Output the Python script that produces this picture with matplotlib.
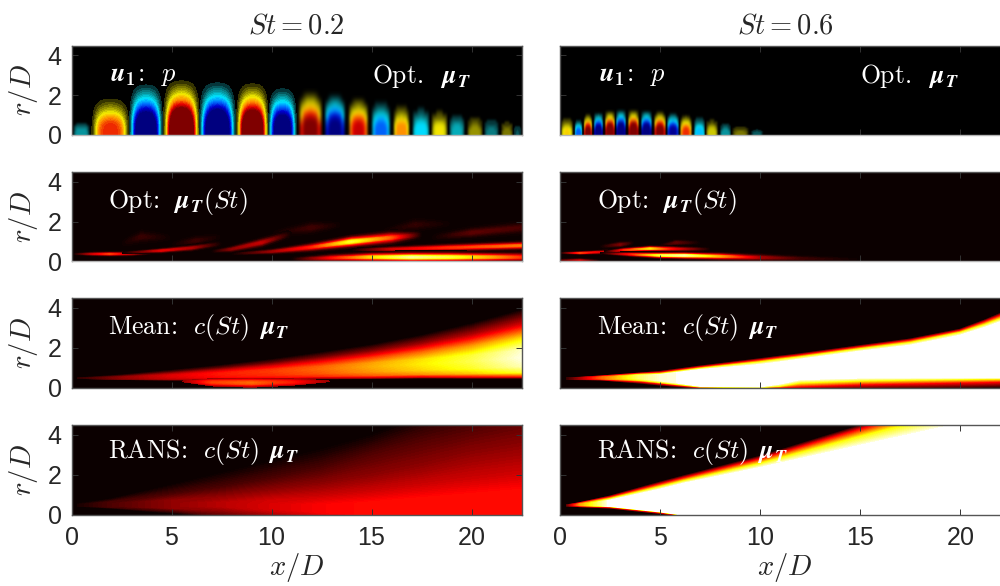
import numpy as np
import matplotlib
matplotlib.use("Agg")
import matplotlib.pyplot as plt
from matplotlib.colors import LinearSegmentedColormap

plt.rcParams['font.family'] = ['Liberation Sans', 'DejaVu Sans']
plt.rcParams['mathtext.fontset'] = 'custom'
plt.rcParams['mathtext.rm'] = 'cmr10'
plt.rcParams['mathtext.it'] = 'cmmi10:italic'
plt.rcParams['mathtext.bf'] = 'cmb10'
plt.rcParams['mathtext.bfit'] = 'STIXGeneral:italic:bold'
plt.rcParams['axes.formatter.use_mathtext'] = True

# ---- top row: pressure lobes, edges along x/D, peak (signed) and top in r/D
lobe_edges_02 = [0, 0.95, 2.87, 4.55, 6.38, 8.22, 9.83, 11.25, 12.58, 13.78, 14.92,
                 16.0, 16.95, 17.92, 18.83, 19.72, 20.58, 21.42, 22.08, 22.5]
lobe_peak_02 = [-0.2, 0.72, -1.3, 1.5, -1.4, 1.4, -1.2, 1.08, -1.05, 0.85, -0.6,
                0.55, -0.36, 0.34, -0.22, 0.17, -0.13, 0.12, -0.07]
lobe_top_02 = [0.8, 2.0, 2.67, 2.9, 2.8, 2.75, 2.5, 2.35, 2.2, 2.0, 1.85,
               1.65, 1.55, 1.4, 1.3, 1.15, 1.0, 0.9, 0.7]

lobe_edges_06 = [0, 0.68, 1.13, 1.63, 2.18, 2.77, 3.35, 4.0, 4.63, 5.3, 5.97,
                 6.65, 7.27, 7.93, 8.57, 9.5, 10.2]
lobe_peak_06 = [0.38, -0.6, 1.05, -1.15, 1.3, -1.3, 1.3, -1.25, 1.1, -0.95, 0.7,
                -0.42, 0.28, -0.17, 0.13, -0.09]
lobe_top_06 = [0.92, 0.83, 1.13, 1.2, 1.3, 1.33, 1.33, 1.3, 1.27, 1.2, 1.1,
               0.97, 0.88, 0.73, 0.55, 0.38]

# normalised look of one lobe, top row is the dome tip, last row is the axis
lobe_shape = np.array([
    [0, 0.00, 0.00, 0.00, 0.00, 0.00, 0.00, 0.00, 0],
    [0, 0.02, 0.06, 0.09, 0.10, 0.09, 0.06, 0.02, 0],
    [0, 0.08, 0.18, 0.23, 0.25, 0.23, 0.18, 0.08, 0],
    [0, 0.20, 0.37, 0.43, 0.45, 0.43, 0.37, 0.20, 0],
    [0, 0.34, 0.62, 0.72, 0.75, 0.72, 0.62, 0.34, 0],
    [0, 0.55, 0.85, 0.95, 1.00, 0.95, 0.85, 0.55, 0],
    [0, 0.68, 0.95, 1.00, 1.00, 1.00, 0.95, 0.68, 0],
    [0, 0.70, 0.95, 1.00, 1.00, 1.00, 0.95, 0.70, 0],
])

# ---- second row: streaks (x stations, centre r, half width, peak)
streaks_02 = [
    ([2.5, 3.5, 5.0], [0.9, 1.25, 1.2], [0.3, 0.4, 0.3], [0.0, 0.07, 0.0]),
    ([5.0, 6.2, 7.5], [0.85, 1.05, 1.25], [0.25, 0.3, 0.25], [0.0, 0.07, 0.0]),
    ([10.0, 12.0, 13.5], [1.4, 1.7, 1.85], [0.25, 0.4, 0.25], [0.0, 0.08, 0.0]),
    ([15.5, 17.2, 19.0], [1.5, 1.85, 1.9], [0.25, 0.4, 0.25], [0.0, 0.06, 0.0]),
    ([18.0, 20.0, 22.5], [1.2, 1.45, 1.7], [0.3, 0.35, 0.4], [0.0, 0.12, 0.09]),
    ([0.1, 1.0, 1.9, 3.0, 4.0], [0.38, 0.38, 0.38, 0.39, 0.42], [0.07, 0.11, 0.13, 0.13, 0.1], [0.0, 0.28, 0.46, 0.25, 0.0]),
    ([2.5, 4.5, 6.0, 7.5], [0.43, 0.55, 0.68, 0.9], [0.08, 0.14, 0.18, 0.2], [0.0, 0.33, 0.25, 0.0]),
    ([7.0, 8.0, 9.5, 11.0], [0.5, 0.62, 0.95, 1.4], [0.1, 0.18, 0.28, 0.3], [0.0, 0.2, 0.28, 0.0]),
    ([8.0, 10.0, 12.0, 14.0, 16.0, 17.5], [0.38, 0.5, 0.72, 1.0, 1.2, 1.35], [0.09, 0.16, 0.27, 0.36, 0.4, 0.3], [0.0, 0.22, 0.42, 0.8, 0.5, 0.0]),
    ([14.0, 16.0, 19.0, 22.5], [0.58, 0.62, 0.7, 0.8], [0.12, 0.18, 0.24, 0.26], [0.0, 0.3, 0.44, 0.55]),
    ([11.0, 13.0, 15.0, 17.0, 19.0, 21.0, 22.5], [0.12, 0.18, 0.22, 0.22, 0.22, 0.22, 0.22], [0.14, 0.24, 0.3, 0.32, 0.32, 0.3, 0.3], [0.0, 0.38, 0.7, 0.9, 0.8, 0.62, 0.44]),
]
streaks_06 = [
    ([0.0, 1.0, 2.0], [0.05, 0.05, 0.03], [0.1, 0.13, 0.1], [0.12, 0.3, 0.0]),
    ([2.0, 3.0, 3.7], [0.75, 0.85, 0.95], [0.12, 0.18, 0.14], [0.0, 0.17, 0.0]),
    ([5.0, 5.8, 7.0], [0.8, 0.95, 0.95], [0.12, 0.18, 0.14], [0.0, 0.13, 0.0]),
    ([0.0, 1.0, 2.2, 3.0], [0.43, 0.43, 0.48, 0.58], [0.06, 0.09, 0.12, 0.12], [0.0, 0.46, 0.3, 0.0]),
    ([2.2, 3.2, 4.5, 5.5, 7.5], [0.48, 0.58, 0.65, 0.64, 0.62], [0.09, 0.13, 0.16, 0.16, 0.12], [0.0, 0.42, 0.72, 0.4, 0.0]),
    ([2.0, 3.5, 5.0, 6.2, 8.0, 10.0, 12.0, 15.0], [0.42, 0.36, 0.31, 0.3, 0.26, 0.2, 0.15, 0.1], [0.06, 0.13, 0.18, 0.2, 0.22, 0.22, 0.18, 0.12], [0.0, 0.4, 0.82, 0.92, 0.62, 0.24, 0.08, 0.0]),
]

# ---- third row, St = 0.2
mean_x_02 = [0.3, 2.5, 5.0, 7.5, 10.0, 12.5, 15.0, 17.5, 20.0, 22.5]
mean_r_02 = [0.47, 0.50, 0.58, 0.68, 0.80, 0.92, 1.05, 1.18, 1.32, 1.50]
mean_low_02 = [0.03, 0.12, 0.22, 0.32, 0.42, 0.50, 0.62, 0.72, 0.87, 1.05]
mean_up_02 = [0.03, 0.15, 0.30, 0.45, 0.62, 0.85, 1.10, 1.45, 1.90, 2.40]
mean_peak_02 = [0.05, 0.20, 0.32, 0.40, 0.45, 0.52, 0.62, 0.72, 0.82, 0.97]
blob_x_02 = [5.5, 7.0, 9.0, 11.0, 13.0]
blob_r_02 = [0.32, 0.26, 0.24, 0.27, 0.32]
blob_w_02 = [0.25, 0.42, 0.48, 0.42, 0.25]
blob_peak_02 = [0.2, 0.46, 0.52, 0.4, 0.2]

# ---- third row, St = 0.6: r/D where the field reaches each level
mean_x_06 = [0.3, 2.0, 4.0, 5.0, 7.0, 10.0, 11.0, 12.0, 15.0, 17.5, 20.0, 21.25, 22.5]
mean_cap_06 = [0.05, 0.5, 0.85, 0.95, 1.0, 1.0, 1.0, 1.0, 1.0, 1.0, 1.0, 1.0, 1.0]
mean_levels_06 = [0.0, 0.36, 0.75, 1.0, 1.0, 0.75, 0.36, 0.0]
mean_rows_06 = [
    [0.38, 0.36, 0.20, 0.10, -0.05, -0.1, -0.1, -0.10, -0.10, -0.08, -0.05, -0.02, 0.0],
    [0.40, 0.41, 0.30, 0.20, 0.00, -0.02, 0.0, 0.05, 0.15, 0.20, 0.25, 0.27, 0.30],
    [0.42, 0.44, 0.38, 0.27, 0.04, 0.0, 0.08, 0.25, 0.35, 0.39, 0.42, 0.44, 0.45],
    [0.44, 0.47, 0.45, 0.35, 0.08, 0.05, 0.20, 0.42, 0.50, 0.50, 0.50, 0.50, 0.50],
    [0.44, 0.47, 0.60, 0.64, 0.88, 1.13, 1.26, 1.40, 1.80, 2.10, 2.60, 3.00, 3.45],
    [0.46, 0.52, 0.64, 0.68, 0.95, 1.27, 1.40, 1.52, 1.93, 2.24, 2.75, 3.15, 3.62],
    [0.48, 0.56, 0.70, 0.75, 1.02, 1.37, 1.50, 1.62, 2.03, 2.36, 2.85, 3.30, 3.80],
    [0.50, 0.60, 0.75, 0.83, 1.10, 1.47, 1.60, 1.72, 2.13, 2.46, 2.95, 3.42, 3.95],
]

# ---- bottom row, St = 0.2
rans_x_02 = [0.3, 2.0, 5.0, 7.5, 10.0, 12.5, 15.0, 17.5, 20.0, 22.5]
rans_cap_02 = [0.02, 0.10, 0.20, 0.26, 0.31, 0.36, 0.38, 0.38, 0.38, 0.38]
rans_levels_02 = [0.0, 0.1, 0.2, 0.3, 0.38, 0.38, 0.3, 0.2, 0.1, 0.0]
rans_rows_02 = [
    [0.40, 0.30, 0.05, -0.15, -0.30, -0.4, -0.4, -0.4, -0.4, -0.4],
    [0.42, 0.38, 0.20, -0.10, -0.25, -0.3, -0.3, -0.3, -0.3, -0.3],
    [0.43, 0.42, 0.33, 0.20, -0.10, -0.2, -0.2, -0.2, -0.2, -0.2],
    [0.44, 0.44, 0.42, 0.40, 0.20, -0.1, -0.1, -0.1, -0.1, -0.1],
    [0.45, 0.46, 0.45, 0.45, 0.30, 0.10, -0.05, -0.05, -0.05, -0.05],
    [0.46, 0.48, 0.50, 0.50, 0.50, 0.50, 0.60, 0.80, 1.00, 1.20],
    [0.47, 0.50, 0.55, 0.60, 0.70, 0.85, 1.10, 1.40, 1.70, 2.00],
    [0.48, 0.55, 0.70, 0.90, 1.20, 1.50, 1.90, 2.40, 3.00, 3.40],
    [0.50, 0.62, 1.00, 1.35, 1.80, 2.30, 3.10, 3.80, 4.40, 5.00],
    [0.55, 0.80, 1.50, 2.10, 2.70, 3.30, 4.00, 5.00, 6.00, 7.00],
]

# ---- bottom row, St = 0.6
rans_x_06 = [0.3, 1.0, 2.5, 5.0, 6.2, 10.0, 15.0, 20.0, 22.5]
rans_cap_06 = [0.1, 0.6, 1.0, 1.0, 1.0, 1.0, 1.0, 1.0, 1.0]
rans_levels_06 = [0.0, 0.36, 0.75, 1.0, 1.0, 0.75, 0.36, 0.0]
rans_rows_06 = [
    [0.41, 0.37, 0.30, 0.03, -0.10, -0.3, -0.3, -0.3, -0.3],
    [0.43, 0.42, 0.37, 0.10, -0.06, -0.25, -0.25, -0.25, -0.25],
    [0.44, 0.45, 0.40, 0.13, -0.04, -0.2, -0.2, -0.2, -0.2],
    [0.45, 0.47, 0.42, 0.15, -0.02, -0.1, -0.1, -0.1, -0.1],
    [0.45, 0.50, 0.70, 1.25, 1.55, 2.33, 3.42, 4.50, 5.10],
    [0.46, 0.53, 0.78, 1.38, 1.68, 2.55, 3.90, 5.20, 5.85],
    [0.48, 0.58, 0.87, 1.52, 1.83, 2.78, 4.27, 5.70, 6.40],
    [0.50, 0.62, 0.95, 1.65, 1.97, 2.95, 4.50, 6.00, 6.80],
]

# cross-stream profile of a streak
profile_at = np.array([-1.0, -0.7, -0.4, -0.15, 0.0, 0.15, 0.4, 0.7, 1.0])
profile_val = np.array([0.0, 0.12, 0.5, 0.92, 1.0, 0.92, 0.5, 0.12, 0.0])
# the mean jet has a sharp lower edge and a soft upper one
jet_at = np.array([-1.0, -0.9, -0.7, -0.4, 0.0, 0.15, 0.4, 0.7, 1.0])
jet_val = np.array([0.0, 0.4, 0.8, 0.95, 1.0, 0.97, 0.72, 0.3, 0.0])

x_ticks = [0, 5, 10, 15, 20]
r_ticks = [0, 2, 4]
titles = [r'$St=0.2$', r'$St=0.6$']

row_labels = [
    (r'$\mathrm{Opt}\!:\!\ \ \boldsymbol{\mu}_{\boldsymbol{T}}(St)$', 3.0),
    (r'$\mathrm{Mean}\!:\!\ \ c(St)\ \,\boldsymbol{\mu}_{\boldsymbol{T}}$', 3.0),
    (r'$\mathrm{RANS}\!:\!\ \ c(St)\ \,\boldsymbol{\mu}_{\boldsymbol{T}}$', 3.15),
]

# black centred jet, the blue side mirrors the warm side
mode_cmap = LinearSegmentedColormap.from_list('mode', [
    (0.00, '#00007f'), (0.10, '#0000d0'), (0.22, '#0070ff'), (0.33, '#00e8ff'),
    (0.43, '#0a7e84'), (0.475, '#063c40'), (0.50, '#000000'),
    (0.525, '#3c3a00'), (0.57, '#7e7a00'), (0.67, '#f6f000'), (0.78, '#ff8a00'), (0.90, '#e80000'),
    (1.00, '#7f0000')], N=45)

HOT_LEVELS = np.linspace(0.004, 0.97, 90)


def draw_field(ax, xs, rows, levels, cap=None):
    # rows run bottom to top, each row is where the field has that level
    R = np.array(rows, dtype=float)
    Z = np.repeat(np.array(levels, dtype=float)[:, None], R.shape[1], axis=1)
    if cap is not None:
        Z = np.minimum(Z, np.array(cap)[None, :])
    X = np.repeat(np.array(xs, dtype=float)[None, :], R.shape[0], axis=0)
    ax.contourf(X, R, Z, levels=HOT_LEVELS, cmap='hot', vmin=0, vmax=1, extend='max')


def draw_streak(ax, xs, centre, low, up, peak, at=profile_at, val=profile_val, floor=0.0):
    centre, low, up, peak = [np.array(a, dtype=float) for a in (centre, low, up, peak)]
    rows = []
    vals = []
    for off, v in zip(at, val):
        width = low if off < 0 else up
        rows.append(centre + off * width)
        vals.append(v * peak)
    X = np.repeat(np.array(xs, dtype=float)[None, :], len(rows), axis=0)
    # floor keeps the dim rim of a streak from painting over what is under it
    ax.contourf(X, np.array(rows), np.array(vals), levels=HOT_LEVELS[HOT_LEVELS >= floor],
                cmap='hot', vmin=0, vmax=1, extend='max')


def draw_lobes(ax, edges, peaks, tops):
    for i in range(len(peaks)):
        ax.imshow(peaks[i] * lobe_shape, extent=(edges[i], edges[i + 1], 0, tops[i]),
                  cmap=mode_cmap, vmin=-1, vmax=1, interpolation='bicubic',
                  aspect='auto', origin='upper', zorder=2)


fig = plt.figure(figsize=(10, 5.86), dpi=100)
row_top = [45.5, 172.0, 298.0, 425.0]
col_left = [71.5, 560.0]
axes = {}
for i, top in enumerate(row_top):
    for j, left in enumerate(col_left):
        ax = fig.add_axes([left / 1000, 1 - (top + 89.5) / 586, 450 / 1000, 89.5 / 586])
        ax.set_facecolor('black' if i == 0 else plt.get_cmap('hot')(0.0))
        axes[i, j] = ax

draw_lobes(axes[0, 0], lobe_edges_02, lobe_peak_02, lobe_top_02)
draw_lobes(axes[0, 1], lobe_edges_06, lobe_peak_06, lobe_top_06)

for s in streaks_02:
    draw_streak(axes[1, 0], s[0], s[1], s[2], s[2], s[3])
for s in streaks_06:
    draw_streak(axes[1, 1], s[0], s[1], s[2], s[2], s[3])

draw_streak(axes[2, 0], mean_x_02, mean_r_02, mean_low_02, mean_up_02, mean_peak_02, jet_at, jet_val)
draw_streak(axes[2, 0], blob_x_02, blob_r_02, blob_w_02, blob_w_02, blob_peak_02, floor=0.2)
draw_field(axes[2, 1], mean_x_06, mean_rows_06, mean_levels_06, mean_cap_06)
draw_field(axes[3, 0], rans_x_02, rans_rows_02, rans_levels_02, rans_cap_02)
draw_field(axes[3, 1], rans_x_06, rans_rows_06, rans_levels_06, rans_cap_06)

for (i, j), ax in axes.items():
    ax.set_xlim(0, 22.5)
    ax.set_ylim(0, 4.5)
    ax.set_xticks(x_ticks)
    ax.set_yticks(r_ticks)
    ax.tick_params(direction='in', length=4.5, width=0.7, top=True, right=True,
                   color='#333333', labelsize=18, labelcolor='#262626')
    ax.tick_params(axis='x', pad=8)
    ax.tick_params(axis='y', pad=7)
    ax.tick_params(labelleft=(j == 0), labelbottom=(i == 3))
    for name, spine in ax.spines.items():
        spine.set_linewidth(1.0)
        spine.set_color('#555555')
    if i < 2:
        ax.spines['bottom'].set_color('#b5b5b5')
    if j == 0:
        ax.set_ylabel(r'$r/D$', fontsize=20.5, color='#262626', labelpad=5)
    if i == 3:
        ax.set_xlabel(r'$x/D$', fontsize=20.5, color='#262626', labelpad=1)
    if i == 0:
        ax.set_title(titles[j], fontsize=20.5, color='#262626', pad=9)

for j in range(2):
    axes[0, j].text(1.95, 2.95, r'$\boldsymbol{u}_{\boldsymbol{1}}\!:\!\ \ p$', color='white',
                    fontsize=19, va='center', zorder=5)
    axes[0, j].text(15.0, 2.95, r'$\mathrm{Opt.}\ \ \boldsymbol{\mu}_{\boldsymbol{T}}$', color='white',
                    fontsize=18.5, va='center', zorder=5)
    for i, (label, r_pos) in enumerate(row_labels):
        axes[i + 1, j].text(1.85, r_pos, label, color='white', fontsize=18.5, va='center', zorder=5)

fig.savefig('out.png', dpi=100)
